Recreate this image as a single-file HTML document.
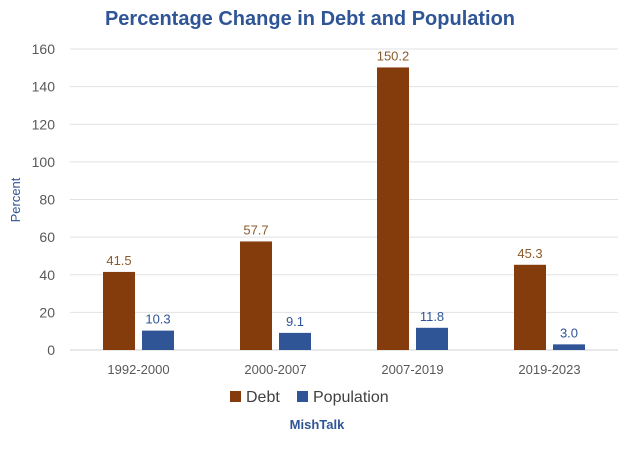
<!DOCTYPE html>
<html><head><meta charset="utf-8"><style>
body{margin:0;background:#fff;font-family:"Liberation Sans",sans-serif;}
</style></head><body>
<svg width="620" height="445" xmlns="http://www.w3.org/2000/svg">
<rect width="620" height="445" fill="#fff"/>
<text x="310" y="25" text-anchor="middle" font-size="20" font-weight="bold" fill="#2F5597">Percentage Change in Debt and Population</text>
<text transform="translate(20,200) rotate(-90)" text-anchor="middle" font-size="13" fill="#2F5597">Percent</text>
<g id="grid"></g><g id="bars"></g>
<g>
<rect x="230" y="391" width="11" height="11" fill="#843C0C"/>
<text x="246" y="402" font-size="16" fill="#404040">Debt</text>
<rect x="297" y="391" width="11" height="11" fill="#2F5597"/>
<text x="313" y="402" font-size="16" fill="#404040">Population</text>
</g>
<text x="317" y="429" text-anchor="middle" font-size="13" font-weight="bold" fill="#2F5597">MishTalk</text>
</svg>
<script>
const categories=["1992-2000","2000-2007","2007-2019","2019-2023"];
const debt=[41.5,57.7,150.2,45.3];
const population=[10.3,9.1,11.8,3.0];
const ticks=[0,20,40,60,80,100,120,140,160];
const NS="http://www.w3.org/2000/svg";
const x0=70,x1=618,yTop=49,yBot=350,maxV=160;
const y=v=>yBot-(v/maxV)*(yBot-yTop);
const band=(x1-x0)/categories.length;
const cx=i=>x0+band*(i+0.5);
function mk(t,a,p){const e=document.createElementNS(NS,t);for(const k in a)e.setAttribute(k,a[k]);p.appendChild(e);return e;}
const g=document.getElementById('grid'),b=document.getElementById('bars');
ticks.forEach(t=>{
 const l=mk('line',{x1:x0,x2:x1,y1:y(t),y2:y(t),stroke:t===0?'#d0d0d0':'#e2e2e2','stroke-width':1},g);
 
 
 const tx=mk('text',{x:55,y:y(t)+5,'text-anchor':'end','font-size':14,fill:'#595959'},g);
 tx.textContent=t;
 
 
});
const bw=32,gap=7;
categories.forEach((c,i)=>{
 const xl=mk('text',{x:cx(i),y:374,'text-anchor':'middle','font-size':13,fill:'#595959'},b);
 xl.textContent=c;
 
 
 [[debt,'#843C0C','#8B5A2B','debt',-bw-gap/2],[population,'#2F5597','#2F5597','population',gap/2]].forEach(([arr,col,lc,nm,off])=>{
  const v=arr[i],bx=cx(i)+off;
  const r=mk('rect',{x:bx,y:y(v),width:bw,height:yBot-y(v),fill:col},b);
  
  
  const lt=mk('text',{x:bx+bw/2,y:y(v)-7,'text-anchor':'middle','font-size':13,fill:lc},b);
  lt.textContent=v.toFixed(1);
  
  
 });
});
</script>
</body></html>
